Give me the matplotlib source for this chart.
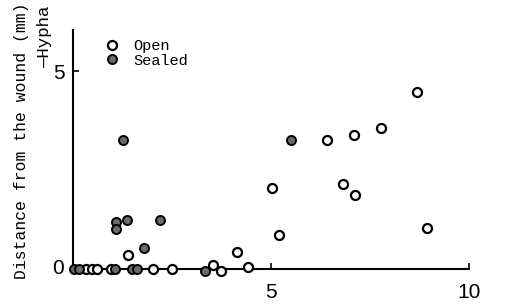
import matplotlib
matplotlib.use("Agg")
import matplotlib.pyplot as plt
from matplotlib.lines import Line2D

# Open wounds
open_x = [0.34, 0.47, 0.6, 0.97, 1.38, 2.02, 2.49, 3.54, 3.74, 4.13, 4.43,
          5.03, 5.2, 6.41, 6.82, 7.09, 7.11, 7.79, 8.68, 8.93]
open_y = [0.0, 0.0, 0.0, 0.0, 0.35, 0.0, 0.0, 0.1, -0.05, 0.43, 0.05,
          2.05, 0.85, 3.25, 2.15, 3.38, 1.87, 3.57, 4.48, 1.04]

# Sealed wounds
sealed_x = [0.03, 0.15, 1.05, 1.08, 1.08, 1.25, 1.36, 1.49, 1.62, 1.79,
            2.2, 3.33, 5.5]
sealed_y = [0.0, 0.0, 0.0, 1.2, 1.02, 3.26, 1.24, 0.0, 0.0, 0.53,
            1.24, -0.05, 3.26]

mono = "Liberation Mono"
sans = "Liberation Sans"

fig = plt.figure(figsize=(5.14, 3.06), dpi=100)
ax = fig.add_axes([73 / 514, 37 / 306, 396 / 514, 239 / 306])

ax.plot(open_x, open_y, "o", ms=6.5, mfc="white", mec="black", mew=1.6,
        clip_on=False, zorder=3)
ax.plot(sealed_x, sealed_y, "o", ms=6.5, mfc="#6a6a6a", mec="black", mew=1.4,
        clip_on=False, zorder=3)

ax.set_xlim(0, 10)
ax.set_ylim(0, 6.04)
for s in ["top", "right"]:
    ax.spines[s].set_visible(False)
for s in ["left", "bottom"]:
    ax.spines[s].set_linewidth(1.5)

ax.set_xticks([5, 10])
ax.set_yticks([5])
ax.tick_params(direction="in", length=4, width=1.2, labelsize=15)
ax.tick_params(axis="x", pad=10)
ax.tick_params(axis="y", pad=6)
for lab in ax.get_xticklabels() + ax.get_yticklabels():
    lab.set_family(sans)
ax.text(-0.37, 0, "0", ha="center", va="center", fontsize=15, family=sans,
        clip_on=False)

fig.text(22 / 514, 1 - 141 / 306, "Distance from the wound (mm)", rotation=90,
         ha="center", va="center", family=mono, fontsize=11.8)
fig.text(45 / 514, 1 - 6 / 306, "\u2014Hypha", rotation=90,
         ha="center", va="top", family=mono, fontsize=12.5)

handles = [
    Line2D([], [], ls="", marker="o", ms=6.5, mfc="white", mec="black", mew=1.6),
    Line2D([], [], ls="", marker="o", ms=6.5, mfc="#6a6a6a", mec="black", mew=1.4),
]
ax.legend(handles, ["Open", "Sealed"], loc="upper left",
          bbox_to_anchor=(104 / 514, 1 - 39 / 306), bbox_transform=fig.transFigure,
          frameon=False, handlelength=1.0, handletextpad=0.9, labelspacing=0.05,
          borderpad=0, borderaxespad=0, prop={"family": mono, "size": 11})

fig.savefig("out.png", dpi=100)
